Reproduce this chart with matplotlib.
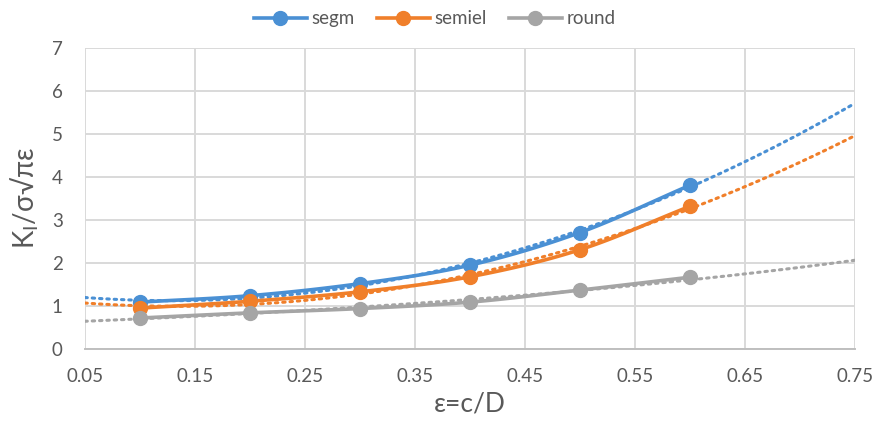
import numpy as np
import matplotlib
matplotlib.use("Agg")
import matplotlib.pyplot as plt

plt.rcParams['font.family'] = ['Lato', 'DejaVu Sans']

x = [0.1, 0.2, 0.3, 0.4, 0.5, 0.6]
segm = [1.08, 1.23, 1.51, 1.94, 2.70, 3.80]
semiel = [0.94, 1.10, 1.32, 1.67, 2.30, 3.31]
round_ = [0.71, 0.83, 0.93, 1.08, 1.36, 1.66]

names = ['segm', 'semiel', 'round']
trend_types = ['poly2', 'poly2', 'exp']
colors = ['#4A90D4', '#F07F2A', '#A5A5A5']
xticks = [0.05, 0.15, 0.25, 0.35, 0.45, 0.55, 0.65, 0.75]
yticks = [0, 1, 2, 3, 4, 5, 6, 7]


def smooth(xs, ys, n=20):
    xs = np.asarray(xs, float); ys = np.asarray(ys, float)
    px = np.concatenate([[2 * xs[0] - xs[1]], xs, [2 * xs[-1] - xs[-2]]])
    py = np.concatenate([[2 * ys[0] - ys[1]], ys, [2 * ys[-1] - ys[-2]]])
    ox, oy = [], []
    for i in range(1, len(px) - 2):
        t = np.linspace(0, 1, n, endpoint=False)
        for arr, out in ((px, ox), (py, oy)):
            p0, p1, p2, p3 = arr[i - 1], arr[i], arr[i + 1], arr[i + 2]
            out.extend(0.5 * ((2 * p1) + (-p0 + p2) * t + (2 * p0 - 5 * p1 + 4 * p2 - p3) * t ** 2
                              + (-p0 + 3 * p1 - 3 * p2 + p3) * t ** 3))
    ox.append(xs[-1]); oy.append(ys[-1])
    return np.array(ox), np.array(oy)


def trend(xs, ys, kind, xt):
    if kind == 'exp':
        k, b = np.polyfit(xs, np.log(ys), 1)
        return np.exp(b + k * xt)
    coef = np.polyfit(xs, ys, 2)
    return np.polyval(coef, xt)


fig = plt.figure(figsize=(8.75, 4.37), dpi=100)
ax = fig.add_axes([0.097, 0.2025, 0.880, 0.688])

xt = np.linspace(0.05, 0.75, 200)
handles = []
for ys, name, c, kind in zip([segm, semiel, round_], names, colors, trend_types):
    ax.plot(xt, trend(x, ys, kind, xt), linestyle=(0, (0.8, 1.6)), color=c, lw=2.2,
            dash_capstyle='round', zorder=2)
    sx, sy = smooth(x, ys)
    ax.plot(sx, sy, color=c, lw=2.6, zorder=3, solid_capstyle='round')
    ax.plot(x, ys, 'o', color=c, ms=10, zorder=4)
    h, = ax.plot([], [], '-o', color=c, lw=2.6, ms=10, label=name)
    handles.append(h)

ax.set_xlim(0.05, 0.75)
ax.set_ylim(0, 7)
ax.set_xticks(xticks)
ax.set_xticklabels([f"{v:.2f}" for v in xticks])
ax.set_yticks(yticks)
ax.grid(True, color='#D9D9D9', lw=1.4)
ax.set_axisbelow(True)
for s in ['top', 'right', 'left']:
    ax.spines[s].set_visible(False)
ax.spines['bottom'].set_color('#BFBFBF')
ax.spines['bottom'].set_linewidth(1.4)
ax.tick_params(axis='x', length=0, labelsize=13.5, colors='#595959', pad=14)
ax.tick_params(axis='y', length=0, labelsize=13.5, colors='#595959', pad=16)

ax.set_ylabel(r'K$_\mathregular{I}$/σ√πε', fontsize=20, color='#595959', va='center')
ax.yaxis.set_label_coords(-0.078, 0.5)
ax.set_xlabel('ε=c/D', fontsize=19, color='#595959', va='center')
ax.xaxis.set_label_coords(0.5, -0.185)

leg = fig.legend(handles=handles, loc='upper center', bbox_to_anchor=(0.497, 1.015), ncol=3,
                 frameon=False, fontsize=13.5, handlelength=2.8, columnspacing=1.2,
                 handletextpad=0.25)
for t in leg.get_texts():
    t.set_color('#595959')

fig.savefig('out.png', dpi=100)
